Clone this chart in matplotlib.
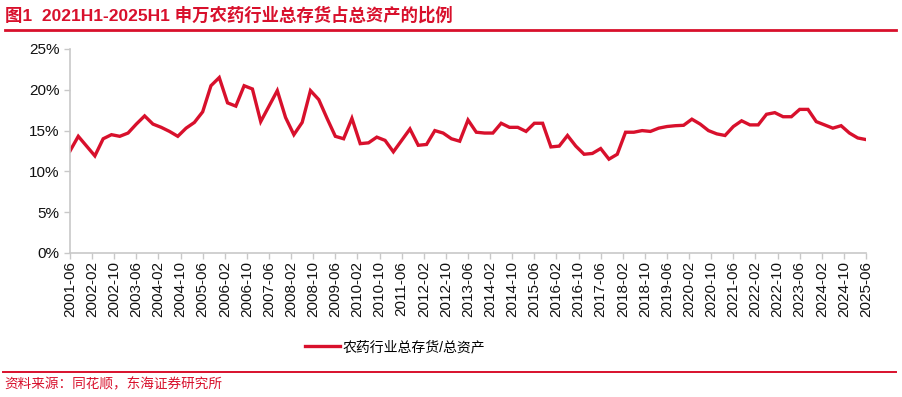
import numpy as np
import matplotlib
matplotlib.use('Agg')
from matplotlib import pyplot as plt
from matplotlib.ticker import PercentFormatter

plt.rcParams['font.family'] = ['Liberation Sans', 'Noto Sans CJK SC', 'DejaVu Sans']

RED = '#D8102C'

# 申万农药行业 总存货/总资产，季度，2001-06 ~ 2025-06
ratio = [12.5, 14.3, 13.1, 11.9, 14.0, 14.5, 14.3, 14.7, 15.8, 16.8,
         15.8, 15.4, 14.9, 14.3, 15.3, 16.0, 17.3, 20.5, 21.5, 18.4,
         18.0, 20.5, 20.1, 16.1, 18.0, 19.9, 16.6, 14.5, 16.0, 19.9,
         18.8, 16.5, 14.3, 14.0, 16.5, 13.4, 13.5, 14.2, 13.8, 12.4,
         13.8, 15.2, 13.2, 13.3, 15.0, 14.7, 14.0, 13.7, 16.3, 14.8,
         14.7, 14.7, 15.9, 15.4, 15.4, 14.9, 15.9, 15.9, 13.0, 13.1,
         14.4, 13.1, 12.1, 12.2, 12.8, 11.5, 12.1, 14.8, 14.8, 15.0,
         14.9, 15.3, 15.5, 15.6, 15.65, 16.4, 15.8, 15.0, 14.6, 14.4,
         15.5, 16.2, 15.7, 15.7, 17.0, 17.2, 16.7, 16.7, 17.6, 17.6,
         16.1, 15.7, 15.3, 15.6, 14.7, 14.1, 13.9]

tick_labels = ['2001-06', '2002-02', '2002-10', '2003-06', '2004-02', '2004-10',
               '2005-06', '2006-02', '2006-10', '2007-06', '2008-02', '2008-10',
               '2009-06', '2010-02', '2010-10', '2011-06', '2012-02', '2012-10',
               '2013-06', '2014-02', '2014-10', '2015-06', '2016-02', '2016-10',
               '2017-06', '2018-02', '2018-10', '2019-06', '2020-02', '2020-10',
               '2021-06', '2022-02', '2022-10', '2023-06', '2024-02', '2024-10',
               '2025-06']

# months since 2001-06
months = np.arange(len(ratio)) * 3
tick_pos = np.arange(len(tick_labels)) * 8

fig = plt.figure(figsize=(9.03, 3.97), dpi=100)
ax = fig.add_axes([70/903, 1-253/397, 796/903, 204/397])

ax.plot(months, np.array(ratio)/100, color=RED, lw=2.4, solid_joinstyle='miter',
        label='农药行业总存货/总资产')

ax.set_xlim(0, 288)
ax.set_ylim(0, 0.25)
ax.set_yticks(np.arange(0, 0.26, 0.05))
ax.yaxis.set_major_formatter(PercentFormatter(1.0, decimals=0))
ax.set_xticks(tick_pos)
ax.set_xticklabels(tick_labels, rotation=90)

for s in ['top', 'right']:
    ax.spines[s].set_visible(False)
for s in ['left', 'bottom']:
    ax.spines[s].set_color('#C8C8C8')
    ax.spines[s].set_linewidth(1.2)
ax.tick_params(axis='both', colors='#C8C8C8', labelcolor='#111111',
               labelsize=11, length=4, width=1.0, direction='out')
ax.tick_params(axis='x', pad=2)

fig.legend(loc='center', bbox_to_anchor=(395/903, 1-347/397), frameon=False,
           fontsize=10, handlelength=2.5, handletextpad=0.2)

# title and source
fig.text(5/903, 1-15/397, '图1  2021H1-2025H1 申万农药行业总存货占总资产的比例',
         color=RED, fontsize=12.5, fontweight='bold', va='center', ha='left')
fig.add_artist(plt.Line2D([5/903, 896/903], [1-30/397, 1-30/397],
                          color=RED, lw=2.0, transform=fig.transFigure))
fig.add_artist(plt.Line2D([3/903, 896/903], [1-372/397, 1-372/397],
                          color=RED, lw=1.4, transform=fig.transFigure))
fig.text(4/903, 1-384/397, '资料来源：同花顺，东海证券研究所', color=RED,
         fontsize=9.8, va='center', ha='left')

fig.savefig('out.png', dpi=100)
